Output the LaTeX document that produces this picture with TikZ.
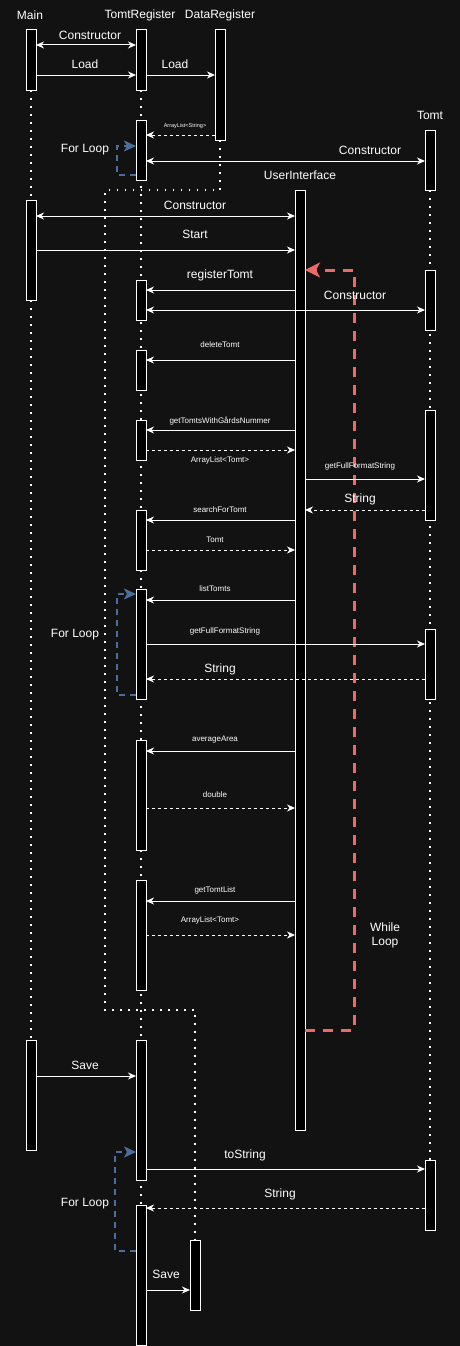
\documentclass[tikz,border=0pt]{standalone}
\usepackage{fontspec}
\setmainfont{Liberation Sans}
\usetikzlibrary{arrows.meta}
\definecolor{bg}{RGB}{18,18,18}
\definecolor{loopblue}{RGB}{76,110,158}
\definecolor{loopred}{RGB}{234,107,102}
\tikzset{
  act/.style={draw=white, fill=black, line width=1pt, minimum width=10pt, inner sep=0pt, outer sep=0pt},
  life/.style={draw=white, line width=1.5pt, dash pattern=on 1.5pt off 6.5pt},
  tip/.tip={Stealth[length=8pt,width=7pt,inset=2.5pt]},
  msg/.style={draw=white, line width=1pt, -tip},
  both/.style={draw=white, line width=1pt, tip-tip},
  ret/.style={msg, dash pattern=on 3pt off 3pt},
  lbl/.style={text=white, font=\fontsize{12}{14}\selectfont, inner sep=0pt},
  slbl/.style={text=white, font=\fontsize{8}{10}\selectfont, inner sep=0pt},
  tlbl/.style={text=white, font=\fontsize{5.5}{7}\selectfont, inner sep=0pt},
  loopb/.style={draw=loopblue, line width=2pt, dash pattern=on 6pt off 5pt, -{Stealth[length=12pt,width=11pt,inset=3pt]}},
  loopr/.style={draw=loopred, line width=3pt, dash pattern=on 10pt off 8pt, -{Stealth[length=15pt,width=15pt,inset=4pt]}},
}
\newcommand\actbox[4]{\node[act, minimum height={(#4-#3)*1pt}] (#1) at (#2,{(#3+#4)/2}) {};}
\begin{document}
\begin{tikzpicture}[x=1pt,y=-1pt]
\fill[bg] (0,0) rectangle (460,1346);
\useasboundingbox (0,0) rectangle (460,1346);

% headers
\node[lbl] (hmain) at (30,15) {Main};
\node[lbl] (htr) at (140,15) {TomtRegister};
\node[lbl] (hdr) at (220,15) {DataRegister};
\node[lbl] (htomt) at (430,115) {Tomt};
\node[lbl] (hui) at (300,175) {UserInterface};

% lifelines
\draw[life] (31,90) -- (31,200);
\draw[life] (31,300) -- (31,1040);
\draw[life] (141,90) -- (141,1205);
\draw[life] (220,140) -- (220,190) -- (105,190) -- (105,1010) -- (195,1010) -- (195,1240);
\draw[life] (430,190) -- (430,1160);

% activation boxes
\actbox{m1}{31}{30}{90}
\actbox{m2}{31}{200}{300}
\actbox{m3}{31}{1040}{1150}
\actbox{t1}{141}{30}{90}
\actbox{t2}{141}{120}{180}
\actbox{t3}{141}{280}{320}
\actbox{t4}{141}{350}{390}
\actbox{t5}{141}{420}{460}
\actbox{t6}{141}{510}{570}
\actbox{t7}{141}{589}{699}
\actbox{t8}{141}{740}{850}
\actbox{t9}{141}{880}{990}
\actbox{t10}{141}{1040}{1180}
\actbox{t11}{141}{1205}{1345}
\actbox{d1}{220}{30}{140}
\actbox{d2}{195}{1240}{1310}
\actbox{o1}{430}{130}{190}
\actbox{o2}{430}{270}{330}
\actbox{o3}{430}{410}{520}
\actbox{o4}{430}{629}{699}
\actbox{o5}{430}{1160}{1230}
\actbox{u1}{300}{190}{1130}

% loops
\draw[loopb] (t2.west |- 0,175) -- (117,175) -- (117,146) -- (t2.west |- 0,146);
\node[lbl] (fl1) at (85,150) {For Loop};
\draw[loopb] (t7.west |- 0,695) -- (117,695) -- (117,594) -- (t7.west |- 0,594);
\node[lbl] (fl2) at (75,635) {For Loop};
\draw[loopb] (t11.west |- 0,1251) -- (115,1251) -- (115,1152) -- (t10.west |- 0,1152);
\node[lbl] (fl3) at (85,1204) {For Loop};
\draw[loopr] (u1.east |- 0,1030) -- (354,1030) -- (354,270) -- (u1.east |- 0,270);
\node[lbl, align=center] (wl) at (385,935) {While\\Loop};

% messages
\draw[both] (m1.east |- 0,45) -- (t1.west |- 0,45);
\node[lbl] (l1) at (90,35) {Constructor};
\draw[msg] (m1.east |- 0,75) -- (t1.west |- 0,75);
\node[lbl] (l2) at (85,64) {Load};
\draw[msg] (t1.east |- 0,75) -- (d1.west |- 0,75);
\node[lbl] (l3) at (175,64) {Load};
\draw[ret] (d1.west |- 0,135) -- (t2.east |- 0,135);
\node[tlbl] (l4) at (185,126) {ArrayList<String>};
\draw[both] (t2.east |- 0,161) -- (o1.west |- 0,161);
\node[lbl] (l5) at (370,150) {Constructor};
\draw[both] (m2.east |- 0,216) -- (u1.west |- 0,216);
\node[lbl] (l6) at (195,205) {Constructor};
\draw[msg] (m2.east |- 0,250) -- (u1.west |- 0,250);
\node[lbl] (l7) at (195,234) {Start};
\draw[msg] (u1.west |- 0,290) -- (t3.east |- 0,290);
\node[lbl] (l8) at (220,275) {registerTomt};
\draw[both] (t3.east |- 0,310) -- (o2.west |- 0,310);
\node[lbl] (l9) at (355,295) {Constructor};
\draw[msg] (u1.west |- 0,360) -- (t4.east |- 0,360);
\node[slbl] (l10) at (220,345) {deleteTomt};
\draw[msg] (u1.west |- 0,430) -- (t5.east |- 0,430);
\node[slbl] (l11) at (220,421) {getTomtsWithGårdsNummer};
\draw[ret] (t5.east |- 0,450) -- (u1.west |- 0,450);
\node[slbl] (l12) at (220,460) {ArrayList<Tomt>};
\draw[msg] (u1.east |- 0,479) -- (o3.west |- 0,479);
\node[slbl] (l13) at (360,466) {getFullFormatString};
\draw[ret] (o3.west |- 0,510) -- (u1.east |- 0,510);
\node[lbl] (l14) at (360,499) {String};
\draw[msg] (u1.west |- 0,520) -- (t6.east |- 0,520);
\node[slbl] (l15) at (220,510) {searchForTomt};
\draw[ret] (t6.east |- 0,550) -- (u1.west |- 0,550);
\node[slbl] (l16) at (215,540) {Tomt};
\draw[msg] (u1.west |- 0,600) -- (t7.east |- 0,600);
\node[slbl] (l17) at (215,589) {listTomts};
\draw[msg] (t7.east |- 0,644) -- (o4.west |- 0,644);
\node[slbl] (l18) at (225,631) {getFullFormatString};
\draw[ret] (o4.west |- 0,679) -- (t7.east |- 0,679);
\node[lbl] (l19) at (220,669) {String};
\draw[msg] (u1.west |- 0,751) -- (t8.east |- 0,751);
\node[slbl] (l20) at (215,740) {averageArea};
\draw[ret] (t8.east |- 0,808) -- (u1.west |- 0,808);
\node[slbl] (l21) at (215,795) {double};
\draw[msg] (u1.west |- 0,901) -- (t9.east |- 0,901);
\node[slbl] (l22) at (215,890) {getTomtList};
\draw[ret] (t9.east |- 0,935) -- (u1.west |- 0,935);
\node[slbl] (l23) at (210,920) {ArrayList<Tomt>};
\draw[msg] (m3.east |- 0,1076) -- (t10.west |- 0,1076);
\node[lbl] (l24) at (85,1065) {Save};
\draw[msg] (t10.east |- 0,1169) -- (o5.west |- 0,1169);
\node[lbl] (l25) at (245,1155) {toString};
\draw[ret] (o5.west |- 0,1208) -- (t11.east |- 0,1208);
\node[lbl] (l26) at (280,1194) {String};
\draw[msg] (t11.east |- 0,1290) -- (d2.west |- 0,1290);
\node[lbl] (l27) at (166,1274) {Save};
\end{tikzpicture}
\end{document}
